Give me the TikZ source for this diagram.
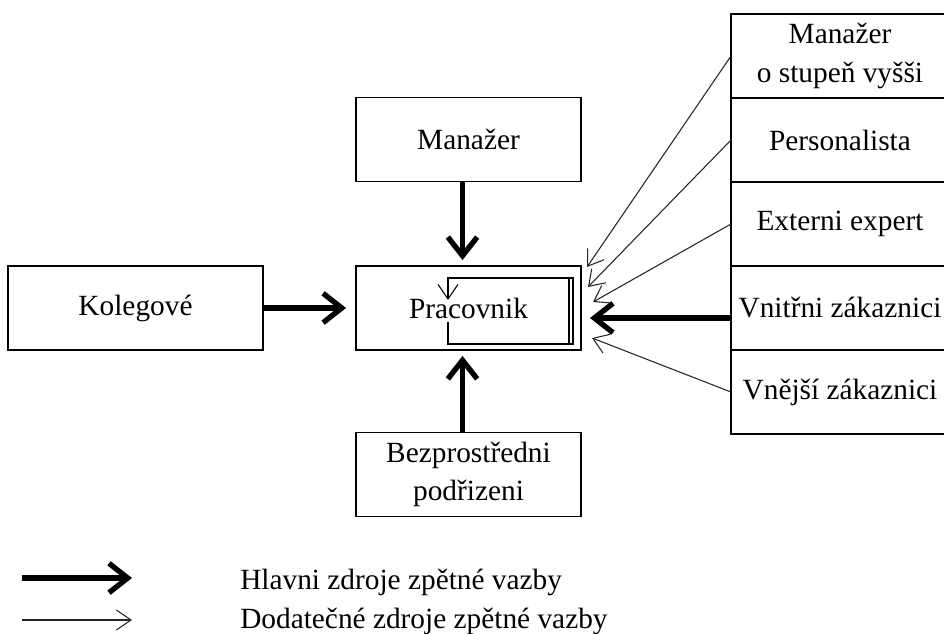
\documentclass[tikz,border=0pt]{standalone}
\usepackage{fontspec}
\setmainfont{Liberation Serif}
\usetikzlibrary{arrows.meta, positioning, calc}
\tikzset{
  box/.style={rectangle, draw, line width=0.9pt, minimum width=168.75pt,
              minimum height=63pt, align=center, fill=white,
              font=\fontsize{22}{29}\selectfont},
  widebox/.style={box, minimum width=191.25pt},
  sidebox/.style={box, minimum width=163.5pt, outer sep=0pt},
  legtext/.style={anchor=base west, inner sep=0pt, font=\fontsize{22}{25}\selectfont},
  mainarrow/.style={-{Straight Barb[length=14pt, width=22pt]}, line width=4pt},
  sidearrow/.style={-{Straight Barb[length=11pt, width=15pt]}, line width=0.8pt, draw=black!85},
}

\begin{document}
\begin{tikzpicture}[x=0.75pt, y=-0.75pt]
  \clip (0,0) rectangle (944,634);

  % central boxes
  \node[widebox] (kol) at (135.5,308) {Kolegov\'e};
  \node[box] (man) at (468.5,139.5) {Manažer};
  \node[box] (prac) at (468.5,308) {Pracovnik};
  \node[box] (bez) at (468.5,474.5) {Bezprostředni\\podřizeni};

  % right column
  \node[sidebox] (mvys) at (840,56) {Manažer\\o stupeň vyšši};
  \node[sidebox, below=0pt of mvys] (pers) {Personalista};
  \node[sidebox, below=0pt of pers] (ext) {Externi expert};
  \node[sidebox, below=0pt of ext] (vnit) {Vnitřni zákaznici};
  \node[sidebox, below=0pt of vnit] (vnej) {Vnější zákaznici};

  % self-assessment loop
  \draw[sidearrow, draw=black] (448,322) -- (448,344) -- (573,344) -- (573,278)
    -- (448,278) -- (448,300);
  \draw[line width=0.8pt] (569,278) -- (569,344);

  % tips of the arrows at the right side of Pracovnik
  \coordinate (tipa) at (587,267);
  \coordinate (tipb) at (588,287);
  \coordinate (tipc) at (593,302);
  \coordinate (tipv) at (590,318);
  \coordinate (tipe) at (592,338);

  % main sources
  \draw[mainarrow] ([xshift=-4.5pt]man.south) -- ([xshift=-4.5pt,yshift=4pt]prac.north);
  \draw[mainarrow] ([xshift=-4.5pt]bez.north) -- ([xshift=-4.5pt,yshift=-4pt]prac.south);
  \draw[mainarrow] (kol.east) -- ([xshift=-7pt]prac.west);
  \draw[mainarrow] ([yshift=-7.5pt]vnit.west) -- (tipv);

  % additional sources
  \draw[sidearrow] (mvys.west) -- (tipa);
  \draw[sidearrow] (pers.west) -- (tipb);
  \draw[sidearrow] (ext.west) -- (tipc);
  \draw[sidearrow] (vnej.west) -- (tipe);

  % legend
  \coordinate (lega) at (22,578);
  \coordinate (legb) at (132,578);
  \coordinate (legc) at (22,620);
  \coordinate (legd) at (132,620);
  \draw[mainarrow] (lega) -- (legb);
  \draw[sidearrow] (legc) -- (legd);
  \node[legtext] (hlav) at (240,589) {Hlavni zdroje zpětné vazby};
  \node[legtext] (dod) at (240,628) {Dodatečné zdroje zpětné vazby};
\end{tikzpicture}
\end{document}
